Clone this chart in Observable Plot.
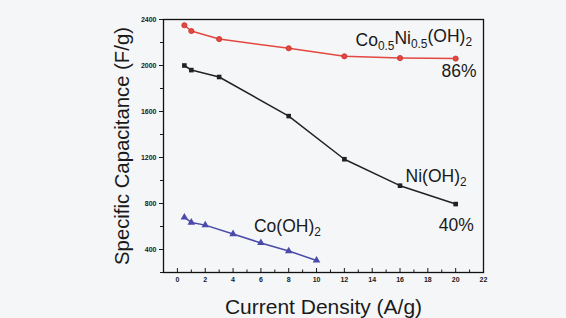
<!DOCTYPE html>
<html><head><meta charset="utf-8">
<script src="https://cdn.jsdelivr.net/npm/d3@7"></script>
<script src="https://cdn.jsdelivr.net/npm/@observablehq/plot@0.6"></script>
<style>
body{margin:0;background:#f5f6f8;}
#chart{width:566px;height:318px;}
</style></head>
<body><div id="chart"></div>
<script>
// Data
const xCoNi = [0.5, 1, 3, 8, 12, 16, 20];
const yCoNi = [2350, 2300, 2230, 2150, 2080, 2065, 2060];
const xNi = [0.5, 1, 3, 8, 12, 16, 20];
const yNi = [2000, 1960, 1900, 1560, 1185, 955, 795];
const xCo = [0.5, 1, 2, 4, 6, 8, 10];
const yCo = [680, 635, 612, 535, 457, 387, 305];
const yTicksMajor = [400, 800, 1200, 1600, 2000, 2400];
const yTicksMinor = [200, 600, 1000, 1400, 1800, 2200];
const xTicksMajor = [0, 2, 4, 6, 8, 10, 12, 14, 16, 18, 20, 22];
const xTicksMinor = [-1, 1, 3, 5, 7, 9, 11, 13, 15, 17, 19, 21];
const labels = ["Co_{0.5}Ni_{0.5}(OH)_{2}", "86%", "Ni(OH)_{2}", "40%", "Co(OH)_{2}"];
const labelX = [12.8, 21.5, 16.4, 21.3, 5.5];
const labelY = [2222, 1950, 1033, 613, 600];
const labelAnchor = ["start", "end", "start", "end", "start"];

const coni = xCoNi.map((x, i) => ({x, y: yCoNi[i]}));
const ni = xNi.map((x, i) => ({x, y: yNi[i]}));
const co = xCo.map((x, i) => ({x, y: yCo[i]}));
const ann = labels.map((t, i) => ({t, x: labelX[i], y: labelY[i], a: labelAnchor[i]}));

const red = "#e2483f", black = "#222222", blue = "#4a4aaa";
const font = "'Liberation Sans', Arial, sans-serif";

const chart = Plot.plot({
  width: 566, height: 318,
  marginLeft: 163, marginRight: 83, marginTop: 19, marginBottom: 46,
  style: {fontFamily: font, background: "#f5f6f8", color: "#1a1a1a"},
  x: {domain: [-1, 22]},
  y: {domain: [200, 2400]},
  marks: [
    Plot.axisY({ticks: yTicksMajor, tickFormat: "d", tickSize: 4, tickPadding: 3, fontSize: 7, fontWeight: "bold", label: null}),
    Plot.axisY({ticks: yTicksMinor, tickSize: 3, text: null, label: null}),
    Plot.axisY({ticks: [], tickSize: 0, text: null, fontSize: 20.3,
      label: "Specific Capacitance (F/g)", labelAnchor: "center", labelArrow: "none", labelOffset: 49}),
    Plot.axisX({ticks: xTicksMajor, tickFormat: "d", tickSize: -4, tickPadding: 9, fontSize: 7, fontWeight: "bold", label: null}),
    Plot.axisX({ticks: xTicksMinor, tickSize: -2.5, text: null, label: null}),
    Plot.axisX({ticks: [], tickSize: 0, text: null, fontSize: 21,
      label: "Current Density (A/g)", labelAnchor: "center", labelArrow: "none", labelOffset: 41}),
    Plot.frame({stroke: "#111", strokeWidth: 1.3}),
    Plot.line(coni, {x: "x", y: "y", stroke: red, strokeWidth: 1.5}),
    Plot.dot(coni, {x: "x", y: "y", symbol: "circle", r: 2.6, fill: red, stroke: "#c83030", strokeWidth: 0.8}),
    Plot.line(ni, {x: "x", y: "y", stroke: black, strokeWidth: 1.5}),
    Plot.dot(ni, {x: "x", y: "y", symbol: "square", r: 2.6, fill: black}),
    Plot.line(co, {x: "x", y: "y", stroke: blue, strokeWidth: 1.5}),
    Plot.dot(co, {x: "x", y: "y", symbol: "triangle", r: 2.8, fill: blue}),
    Plot.text(ann.filter(d => d.a === "start"), {x: "x", y: "y", text: "t", textAnchor: "start", fontSize: 17.5, fill: "#1a1a1a", lineAnchor: "middle"}),
    Plot.text(ann.filter(d => d.a === "end"), {x: "x", y: "y", text: "t", textAnchor: "end", fontSize: 17.5, fill: "#1a1a1a", lineAnchor: "middle"})
  ]
});
document.getElementById("chart").appendChild(chart);

// subscripts
d3.select(chart).selectAll("text").each(function() {
  const txt = this.textContent;
  if (!txt.includes("_{")) return;
  const parts = txt.split(/_\{([^}]*)\}/);
  const sel = d3.select(this);
  sel.text(null);
  parts.forEach((p, i) => {
    if (!p) return;
    if (i % 2 === 1) {
      sel.append("tspan").attr("font-size", "68%").attr("dy", "0.35em").text(p);
    } else {
      const t = sel.append("tspan").text(p);
      if (i > 0) t.attr("dy", "-0.35em");
    }
  });
});
</script></body></html>
